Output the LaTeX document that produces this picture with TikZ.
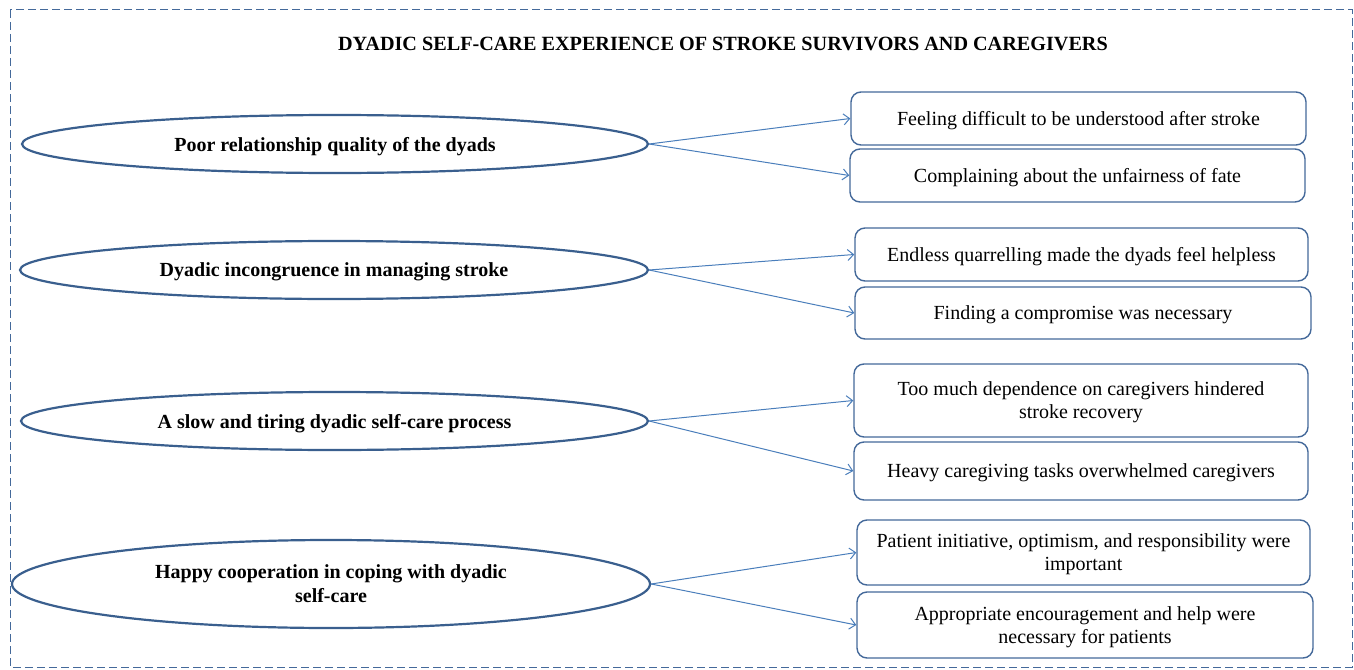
\documentclass[tikz,border=0pt]{standalone}
\usepackage{fontspec}
\setmainfont{Liberation Serif}
\usetikzlibrary{shapes.geometric,arrows.meta}
\definecolor{ellcol}{HTML}{3A5F8E}
\definecolor{boxcol}{HTML}{44699A}
\definecolor{arrcol}{HTML}{4A7EBB}
\tikzset{
  theme/.style={draw=ellcol, line width=2.2pt, ellipse, inner sep=0pt, text depth=-0.5pt,
    font=\fontsize{20}{24}\selectfont\bfseries, align=center},
  sub/.style={draw=boxcol, line width=1.4pt, rounded corners=10pt, inner sep=0pt, text depth=-1pt,
    font=\fontsize{20}{23}\selectfont, align=center},
  link/.style={draw=arrcol, line width=1pt, -{Straight Barb[length=6pt,width=11pt,line width=1pt]}},
}
\begin{document}
\begin{tikzpicture}[x=1pt,y=-1pt]
\useasboundingbox (0,0) rectangle (1354,669);
\draw[boxcol, line width=1pt, dash pattern=on 8pt off 4pt] (10,10) rectangle (1352,667);
\node[font=\fontsize{20.2}{24}\selectfont\bfseries] (title) at (723,44) {DYADIC SELF-CARE EXPERIENCE OF STROKE SURVIVORS AND CAREGIVERS};

\node[theme, minimum width=626pt, minimum height=58pt] (e1) at (335,144) {Poor relationship quality of the dyads};
\node[theme, minimum width=628pt, minimum height=58pt] (e2) at (334,270) {Dyadic incongruence in managing stroke};
\node[theme, minimum width=627pt, minimum height=58pt] (e3) at (334.5,421) {A slow and tiring dyadic self-care process};
\node[theme, minimum width=638pt, minimum height=88pt, text depth=0pt] (e4) at (331,584) {Happy cooperation in coping with dyadic\\self-care};

\node[sub, minimum width=455pt, minimum height=53pt] (b1) at (1078.5,118.5) {Feeling difficult to be understood after stroke};
\node[sub, minimum width=455pt, minimum height=53pt] (b2) at (1077.5,175.5) {Complaining about the unfairness of fate};
\node[sub, minimum width=453pt, minimum height=53pt] (b3) at (1081.5,254.5) {Endless quarrelling made the dyads feel helpless};
\node[sub, minimum width=456pt, minimum height=52pt] (b4) at (1083,313) {Finding a compromise was necessary};
\node[sub, minimum width=454pt, minimum height=73pt] (b5) at (1081,400.5) {Too much dependence on caregivers hindered\\stroke recovery};
\node[sub, minimum width=454pt, minimum height=58pt] (b6) at (1081,471) {Heavy caregiving tasks overwhelmed caregivers};
\node[sub, minimum width=453pt, minimum height=65pt] (b7) at (1083.5,552.5) {Patient initiative, optimism, and responsibility were\\important};
\node[sub, minimum width=456pt, minimum height=66pt] (b8) at (1085,625) {Appropriate encouragement and help were\\necessary for patients};

\draw[link] (e1.east) -- (b1.west);
\draw[link] (e1.east) -- (b2.west);
\draw[link] (e2.east) -- (b3.west);
\draw[link] (e2.east) -- (b4.west);
\draw[link] (e3.east) -- (b5.west);
\draw[link] (e3.east) -- (b6.west);
\draw[link] (e4.east) -- (b7.west);
\draw[link] (e4.east) -- (b8.west);
\end{tikzpicture}
\end{document}
